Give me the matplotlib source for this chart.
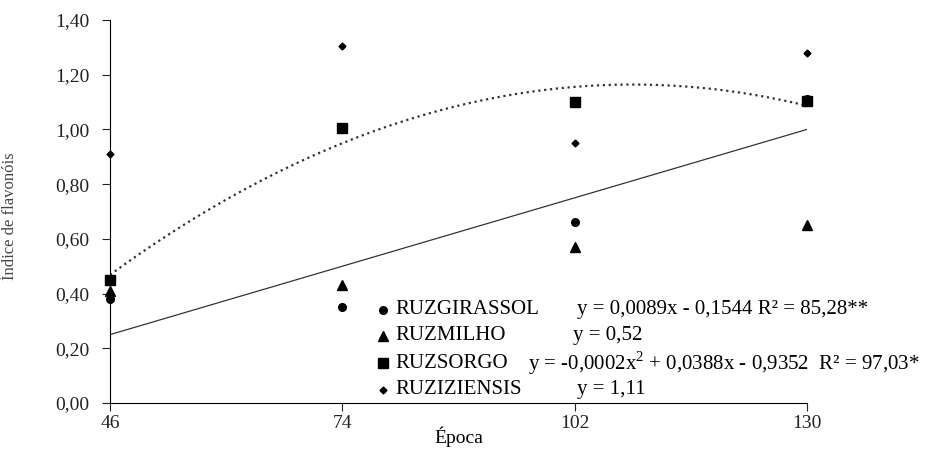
import numpy as np
import matplotlib
matplotlib.use('Agg')
import matplotlib.pyplot as plt

epocas = [46, 74, 102, 130]
girassol = [0.38, 0.35, 0.66, 1.11]
milho = [0.41, 0.43, 0.57, 0.65]
sorgo = [0.45, 1.005, 1.10, 1.105]
ruziziensis = [0.91, 1.305, 0.95, 1.28]

nomes = ['RUZGIRASSOL', 'RUZMILHO', 'RUZSORGO', 'RUZIZIENSIS']
equacoes = ['y = 0,0089x - 0,1544 R² = 85,28**',
            'y = 0,52',
            'y = -0,0002x$^2$ + 0,0388x - 0,9352  R² = 97,03*',
            'y = 1,11']

plt.rcParams['font.family'] = ['Liberation Serif', 'DejaVu Serif']
plt.rcParams['mathtext.fontset'] = 'custom'
plt.rcParams['mathtext.rm'] = 'Liberation Serif'

fig = plt.figure(figsize=(9.52, 4.5), dpi=100)
ax = fig.add_axes([0.1155, 0.1044, 0.7322, 0.8512])

# linhas de tendencia
xs = np.linspace(46, 130, 200)
lin = np.polyfit(epocas, girassol, 1)
quad = np.polyfit(epocas, sorgo, 2)
ax.plot(xs, np.polyval(lin, xs), '-', color='#333333', lw=0.9)
ax.plot(xs, np.polyval(quad, xs), ':', color='#333333', lw=1.6)

ax.plot(epocas, girassol, 'o', color='black', ms=5.5, ls='none', clip_on=False)
ax.plot(epocas, milho, '^', color='black', ms=7, ls='none', clip_on=False)
ax.plot(epocas, sorgo, 's', color='black', ms=7.5, ls='none', clip_on=False)
ax.plot(epocas, ruziziensis, 'D', color='black', ms=3.5, ls='none', clip_on=False)

ax.set_xlim(46, 130)
ax.set_ylim(0, 1.4)
ax.set_xticks(epocas)
ax.set_yticks(np.arange(0, 1.41, 0.2))
ax.set_yticklabels([('%.2f' % v).replace('.', ',') for v in np.arange(0, 1.41, 0.2)])
ax.tick_params(labelsize=14, direction='out', length=5.5, width=0.8, colors='#222222')
ax.tick_params(axis='y', pad=9)
ax.tick_params(axis='x', pad=3)
ax.spines['top'].set_visible(False)
ax.spines['right'].set_visible(False)

ax.set_xlabel('Época', fontsize=14, labelpad=-4)
ax.set_ylabel('Índice de flavonóis', fontsize=12, color='#444444')
ax.yaxis.set_label_coords(-0.132, 0.488)

# legenda manual
marcadores = [('o', 5.5), ('^', 7), ('s', 7.5), ('D', 3.5)]
linhas_y = [0.243, 0.175, 0.104, 0.034]
eq_x = [0.670, 0.664, 0.600, 0.670]
for (m, s), nome, eq, yy, ex in zip(marcadores, nomes, equacoes, linhas_y, eq_x):
    ax.plot(0.392, yy, m, color='black', ms=s, transform=ax.transAxes, clip_on=False)
    ax.text(0.409, yy, nome, transform=ax.transAxes, ha='left', va='center', fontsize=15)
    ax.text(ex, yy, eq, transform=ax.transAxes, ha='left', va='center', fontsize=15)

fig.savefig('out.png', dpi=100)
